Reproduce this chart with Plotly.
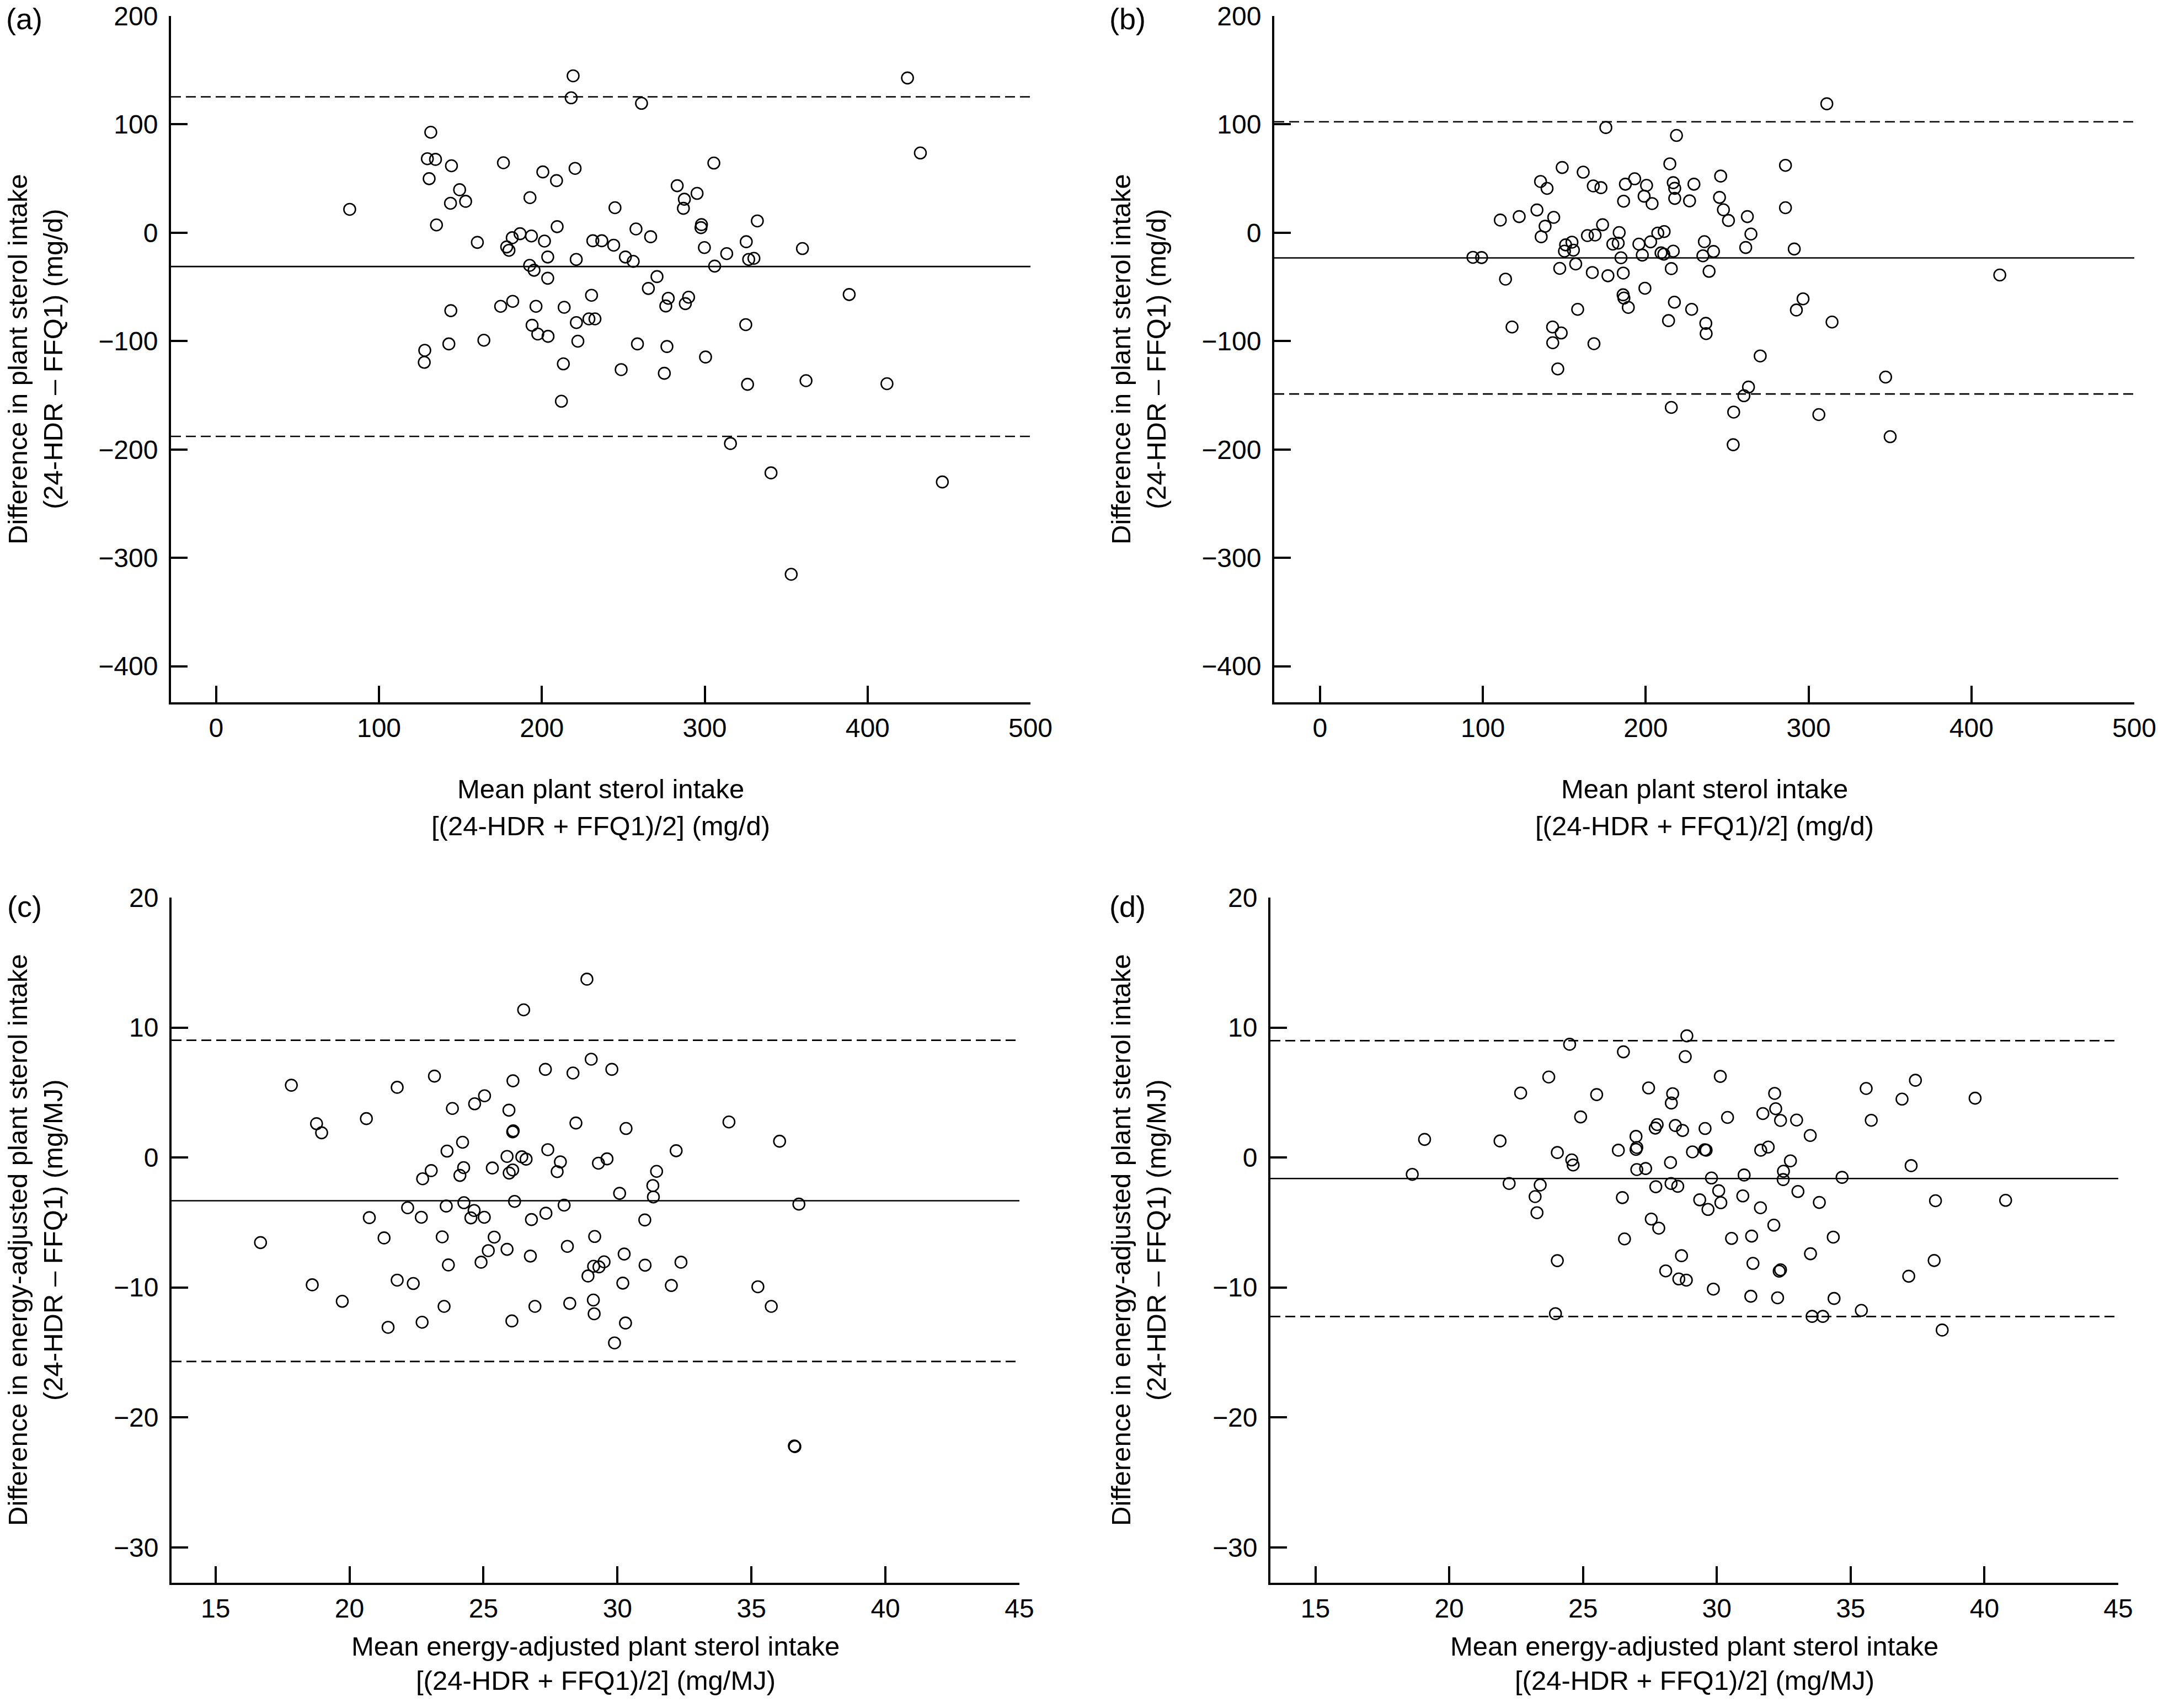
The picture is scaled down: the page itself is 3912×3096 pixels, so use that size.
import plotly.graph_objects as go

W, H = 3912, 3096
FONT = "Liberation Sans, Arial, Helvetica, sans-serif"

# ---- data ----
a_mean = [219.2, 218.0, 261.2, 131.8, 129.7, 134.7, 144.5, 176.4, 200.6, 209.0, 220.4, 130.8,
          149.5, 143.9, 153.2, 192.7, 82.0, 244.9, 135.3, 209.4, 257.8, 266.8, 160.4, 181.8,
          186.6, 193.6, 201.6, 178.4, 179.8, 231.3, 236.8, 244.1, 203.6, 221.1, 251.3, 256.1,
          192.5, 195.2, 203.6, 265.4, 230.5, 144.1, 174.7, 182.1, 196.4, 213.7, 194.0, 221.2,
          228.9, 232.6, 197.5, 203.8, 142.9, 164.4, 222.1, 258.7, 128.1, 127.8, 213.2, 248.7,
          212.0,
          424.5, 432.4, 305.6, 283.1, 295.3, 287.5, 286.9, 298.0, 297.7, 332.3, 299.8, 313.5,
          325.5, 327.0, 330.2, 360.0, 306.1, 270.7, 277.6, 276.1, 290.1, 288.1, 388.7, 325.2,
          276.8, 300.5, 275.2, 326.3, 362.2, 411.9, 315.8, 340.7, 445.9, 353.1]
a_diff = [144.8, 124.5, 119.4, 92.7, 68.3, 67.7, 61.8, 64.6, 56.1, 48.1, 59.4, 49.9,
          39.7, 27.2, 29.0, 32.4, 21.6, 23.1, 7.2, 5.6, 3.5, -3.7, -8.9, -4.6,
          -0.9, -3.0, -7.7, -13.1, -16.2, -7.4, -7.4, -11.5, -22.4, -24.6, -22.4, -26.4,
          -30.1, -34.6, -42.0, -51.4, -57.7, -71.9, -67.9, -63.3, -67.9, -68.8, -85.4, -82.9,
          -79.5, -79.5, -93.5, -95.6, -102.6, -99.2, -100.1, -102.6, -108.5, -119.6, -121.0, -126.3,
          -155.5,
          142.8, 73.6, 64.3, 43.4, 36.3, 30.9, 22.5, 7.5, 4.7, 10.9, -13.7, -19.3,
          -8.3, -24.6, -23.6, -14.6, -30.8, -40.5, -60.5, -67.6, -59.5, -65.4, -57.0, -84.8,
          -105.0, -114.7, -129.7, -139.9, -136.5, -139.3, -194.5, -221.6, -230.0, -315.2]
a_limits = [125.4, -31.2, -187.9]

b_mean = [175.5, 218.9, 148.7, 161.6, 214.8, 135.4, 139.4, 167.8, 172.5, 187.5, 193.2, 200.5,
          216.9, 217.8, 229.6, 246.0, 186.4, 199.0, 203.9, 217.8, 226.9, 245.3, 247.7, 250.8,
          110.7, 122.3, 133.2, 143.5, 138.2, 135.8, 173.5, 164.2, 168.9, 183.7, 179.8, 183.1,
          207.4, 211.3, 195.8, 203.0, 236.0, 150.8, 154.7, 150.1, 155.6, 93.9, 99.2, 184.8,
          197.9, 209.4, 211.1, 216.9, 235.1, 241.6, 147.2, 157.0, 167.2, 176.8, 186.2, 215.7,
          238.9, 113.9, 199.5, 186.1, 186.6, 189.3, 158.2, 217.6, 228.2, 214.0, 236.9, 237.1,
          117.9, 142.8, 148.1, 142.9, 168.2, 146.0, 215.7, 254.0, 253.7,
          311.2, 285.8, 285.8, 262.4, 264.6, 261.4, 291.2, 417.4, 296.6, 292.5, 314.4, 270.3,
          347.3, 263.1, 260.3, 306.3, 350.1]
b_diff = [97.1, 89.8, 60.2, 55.9, 63.6, 47.3, 40.9, 43.2, 41.6, 44.8, 49.8, 43.7,
          46.2, 41.0, 44.8, 52.3, 29.1, 33.7, 26.9, 31.7, 29.4, 32.6, 21.2, 11.3,
          11.7, 14.9, 21.0, 14.2, 6.0, -3.7, 7.4, -2.6, -2.1, 0.2, -10.5, -9.6,
          -0.3, 1.1, -10.5, -8.4, -8.2, -11.2, -8.7, -17.0, -16.1, -22.7, -22.9, -23.1,
          -20.6, -18.6, -19.8, -17.0, -21.3, -17.3, -32.9, -28.8, -36.7, -39.7, -37.2, -33.1,
          -35.6, -42.8, -51.2, -57.3, -60.3, -68.9, -70.7, -64.1, -70.7, -81.1, -83.6, -93.1,
          -87.0, -87.0, -92.5, -101.5, -102.4, -125.7, -161.2, -165.5, -195.6,
          119.0, 62.2, 23.1, 14.9, -1.2, -13.6, -15.0, -39.0, -61.0, -71.3, -82.4, -113.7,
          -133.2, -142.4, -150.4, -167.8, -188.2]
b_limits = [102.4, -23.2, -148.8]

c_mean = [26.50, 17.83, 21.78, 23.17, 26.10, 18.77, 18.96, 20.63, 23.84, 24.67, 25.04, 25.95,
          26.09, 26.11, 24.22, 23.64, 23.05, 22.73, 24.26, 24.12, 25.33, 25.88, 26.43, 26.59,
          25.96, 26.09, 24.27, 26.16, 22.17, 23.61, 24.65, 24.53, 25.03, 20.74, 22.68, 26.79,
          16.68, 21.29, 23.46, 25.40, 25.88, 25.18, 24.91, 23.69, 26.75, 18.61, 21.78, 22.38,
          19.73, 23.53, 26.92, 21.44, 22.71, 26.06,
          28.86, 27.31, 28.34, 29.02, 29.79, 28.45, 30.32, 34.16, 36.05, 27.40, 27.87, 27.75,
          29.29, 29.61, 31.46, 32.19, 30.08, 31.32, 31.34, 28.01, 27.33, 36.77, 31.02, 29.15,
          28.13, 30.25, 29.50, 29.31, 29.11, 28.90, 31.03, 32.37, 30.20, 32.01, 35.24, 35.74,
          28.22, 29.10, 29.13, 30.30, 29.89, 36.60, 36.62]
c_diff = [11.36, 5.56, 5.40, 6.26, 5.90, 2.60, 1.90, 2.99, 3.77, 4.13, 4.75, 3.64,
          1.97, 2.05, 1.17, 0.49, -1.01, -1.64, -0.78, -1.38, -0.81, 0.08, 0.05, -0.13,
          -1.20, -0.96, -3.48, -3.38, -3.87, -3.74, -4.08, -4.65, -4.60, -4.63, -4.60, -4.78,
          -6.55, -6.19, -6.11, -6.13, -7.07, -7.17, -8.06, -8.27, -7.59, -9.80, -9.44, -9.70,
          -11.07, -11.46, -11.46, -13.07, -12.68, -12.58,
          13.72, 6.78, 6.50, 7.56, 6.78, 2.65, 2.23, 2.73, 1.25, 0.60, -0.34, -1.09,
          -0.44, -0.11, -1.07, 0.52, -2.76, -2.16, -3.04, -3.67, -4.29, -3.59, -4.81, -6.08,
          -6.84, -7.43, -8.03, -8.42, -8.37, -9.12, -8.29, -8.06, -9.67, -9.85, -9.95, -11.46,
          -11.23, -10.97, -12.03, -12.74, -14.27, -22.20, -22.25]
c_limits = [9.02, -3.33, -15.70]

d_mean = [28.88, 24.50, 26.51, 28.82, 23.72, 22.67, 25.51, 27.45, 28.35, 28.30, 24.91, 27.77,
          27.70, 28.45, 28.72, 19.08, 21.90, 26.98, 24.04, 26.32, 27.01, 26.98, 29.09, 24.58,
          24.63, 28.27, 27.01, 27.34, 18.62, 22.24, 23.40, 27.72, 28.29, 28.54, 23.21, 26.47,
          23.28, 27.55, 27.83, 26.55, 24.04, 28.68, 28.09, 28.58, 28.86, 23.97,
          30.13, 32.16, 35.58, 37.42, 36.92, 39.65, 32.20, 31.72, 30.40, 32.38, 32.98, 35.77,
          29.56, 33.49, 29.55, 29.60, 31.64, 31.92, 32.75, 32.49, 37.26, 31.02, 29.80, 32.48,
          34.68, 30.07, 33.03, 29.36, 30.97, 30.15, 29.67, 31.63, 33.83, 38.17, 40.79, 32.13,
          30.55, 31.30, 34.35, 33.50, 38.12, 37.17, 31.35, 32.38, 32.33, 29.87, 31.27, 32.27,
          34.38, 35.40, 33.56, 33.96, 38.42]
d_diff = [9.36, 8.71, 8.13, 7.76, 6.19, 4.96, 4.84, 5.35, 4.91, 4.19, 3.12, 2.53,
          2.26, 2.46, 2.08, 1.39, 1.27, 1.62, 0.38, 0.56, 0.77, 0.62, 0.43, -0.19,
          -0.58, -0.39, -0.93, -0.85, -1.30, -2.00, -2.12, -2.25, -2.00, -2.22, -3.01, -3.09,
          -4.25, -4.74, -5.44, -6.27, -7.94, -7.56, -8.73, -9.35, -9.44, -12.02,
          6.24, 4.93, 5.31, 5.94, 4.49, 4.56, 3.75, 3.38, 3.08, 2.85, 2.88, 2.86,
          2.23, 1.69, 0.60, 0.56, 0.56, 0.80, -0.26, -1.06, -0.63, -1.35, -1.58, -1.70,
          -1.53, -2.56, -2.62, -3.26, -2.96, -3.48, -4.00, -3.87, -3.46, -3.33, -3.30, -5.21,
          -6.23, -6.05, -6.13, -7.41, -7.93, -9.14, -8.15, -8.65, -8.75, -10.13, -10.68, -10.80,
          -10.85, -11.77, -12.23, -12.23, -13.28]
d_limits = [8.99, -1.62, -12.24]

x_ticks_mg = [0, 100, 200, 300, 400, 500]
y_ticks_mg = [-400, -300, -200, -100, 0, 100, 200]
x_ticks_en = [15, 20, 25, 30, 35, 40, 45]
y_ticks_en = [-30, -20, -10, 0, 10, 20]

y_title_mg = ["Difference in plant sterol intake", "(24-HDR \u2013 FFQ1) (mg/d)"]
x_title_mg = ["Mean plant sterol intake", "[(24-HDR + FFQ1)/2] (mg/d)"]
y_title_en = ["Difference in energy-adjusted plant sterol intake", "(24-HDR \u2013 FFQ1) (mg/MJ)"]
x_title_en = ["Mean energy-adjusted plant sterol intake", "[(24-HDR + FFQ1)/2] (mg/MJ)"]

# ---- panel geometry in pixels ----
panels = [
    dict(lab="(a)", x=a_mean, y=a_diff, lim=a_limits, xp=(310, 1868), yp=(29, 1273),
         xr=[-27.7, 500], yr=[-433.3, 200], xt=x_ticks_mg, yt=y_ticks_mg,
         ytl=y_title_mg, xtl=x_title_mg, off=(0, 0), xty=(1430, 1497)),
    dict(lab="(b)", x=b_mean, y=b_diff, lim=b_limits, xp=(2310, 3869), yp=(29, 1273),
         xr=[-28.1, 500], yr=[-433.3, 200], xt=x_ticks_mg, yt=y_ticks_mg,
         ytl=y_title_mg, xtl=x_title_mg, off=(2000, 0), xty=(1430, 1497)),
    dict(lab="(c)", x=c_mean, y=c_diff, lim=c_limits, xp=(311, 1848), yp=(1627, 2869),
         xr=[13.36, 45], yr=[-32.73, 20], xt=x_ticks_en, yt=y_ticks_en,
         ytl=y_title_en, xtl=x_title_en, off=(0, 1609), xty=(2984, 3046)),
    dict(lab="(d)", x=d_mean, y=d_diff, lim=d_limits, xp=(2303, 3840), yp=(1627, 2869),
         xr=[13.32, 45], yr=[-32.73, 20], xt=x_ticks_en, yt=y_ticks_en,
         ytl=y_title_en, xtl=x_title_en, off=(2000, 1609), xty=(2984, 3046)),
]

fig = go.Figure()
layout = dict(template="none", width=W, height=H, margin=dict(l=0, r=0, t=0, b=0, pad=0),
              paper_bgcolor="white", plot_bgcolor="white", showlegend=False,
              font=dict(family=FONT, color="black", size=48))
shapes, annotations = [], []


def px(x):
    return x / W


def py(y):
    return 1 - y / H


for i, p in enumerate(panels, 1):
    sx = "" if i == 1 else str(i)
    xa, ya = "x" + sx, "y" + sx
    axis_common = dict(showline=True, linewidth=4, linecolor="black", ticks="inside",
                       ticklen=30, tickwidth=4, tickcolor="black", showgrid=False,
                       zeroline=False, automargin=False, fixedrange=True,
                       tickfont=dict(size=48, family=FONT, color="black"))
    layout["xaxis" + sx] = dict(axis_common, domain=[px(p["xp"][0]), px(p["xp"][1])],
                                range=p["xr"], tickvals=p["xt"], anchor=ya,
                                ticklabelstandoff=1)
    layout["yaxis" + sx] = dict(axis_common, domain=[py(p["yp"][1]), py(p["yp"][0])],
                                range=p["yr"], tickvals=p["yt"], anchor=xa,
                                ticklabelstandoff=10)

    fig.add_trace(go.Scatter(
        x=p["x"], y=p["y"], mode="markers", xaxis=xa, yaxis=ya,
        marker=dict(symbol="circle", size=21, color="rgba(0,0,0,0)",
                    line=dict(color="black", width=2.6)),
    ))

    upper, mean, lower = p["lim"]
    for val, dash in [(upper, "18px,9px"), (mean, "solid"), (lower, "18px,9px")]:
        shapes.append(dict(type="line", xref=xa + " domain", yref=ya, x0=0, x1=1,
                           y0=val, y1=val, line=dict(color="black", width=2.6, dash=dash)))

    ox, oy = p["off"]
    annotations.append(dict(text=p["lab"], x=px(44 + ox), y=py(34 + oy), xref="paper",
                            yref="paper", showarrow=False, xanchor="center",
                            yanchor="middle", borderpad=0, font=dict(size=54, family=FONT)))
    ymid = (p["yp"][0] + p["yp"][1]) / 2
    for k, t in enumerate(p["ytl"]):
        annotations.append(dict(text=t, x=px([32, 96][k] + ox), y=py(ymid), xref="paper",
                                yref="paper", showarrow=False, textangle=-90,
                                xanchor="center", yanchor="middle", borderpad=0,
                                font=dict(size=49, family=FONT)))
    xmid = (p["xp"][0] + p["xp"][1]) / 2
    for k, t in enumerate(p["xtl"]):
        annotations.append(dict(text=t, x=px(xmid), y=py(p["xty"][k]), xref="paper",
                                yref="paper", showarrow=False, xanchor="center",
                                yanchor="middle", borderpad=0,
                                font=dict(size=49, family=FONT)))

layout["shapes"] = shapes
layout["annotations"] = annotations
fig.update_layout(**layout)
fig.write_html("out.html", config={"displayModeBar": False},
               post_script="document.body.style.margin='0px';document.body.style.padding='0px';")
